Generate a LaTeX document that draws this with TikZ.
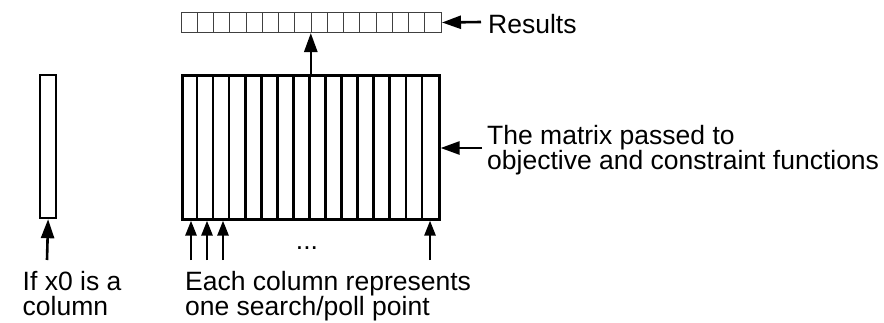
\documentclass[tikz,border=0pt]{standalone}
\usepackage{fontspec}
\setmainfont{Liberation Sans}
\usetikzlibrary{arrows.meta}

\tikzset{
  lbl/.style={anchor=north west, inner sep=0pt, align=left,
    font=\fontsize{26.5}{25}\selectfont},
  ptr/.style={line width=2.6pt, -{Triangle[length=19pt,width=13pt]}},
  colbox/.style={draw, line width=2.6pt, anchor=north west, inner sep=0pt},
  resbox/.style={draw=black!75, line width=1pt, anchor=north west, inner sep=0pt}
}

\begin{document}
\begin{tikzpicture}[x=1pt, y=-1pt]
    \useasboundingbox (0,0) rectangle (884,322);

    % Results row
    \node[resbox, minimum width=260pt, minimum height=20pt] (res) at (181,12) {};
    \foreach \i in {1,...,15}
        \draw[black!75, line width=1pt] ([xshift=\i*16.25pt]res.north west) -- ([xshift=\i*16.25pt]res.south west);

    % The matrix
    \node[colbox, minimum width=257pt, minimum height=144pt] (mat) at (181,74) {};
    \foreach \i in {1,...,15}
        \draw[line width=2.6pt] ([xshift=\i*16.06pt]mat.north west) -- ([xshift=\i*16.06pt]mat.south west);

    % Single column x0
    \node[colbox, line width=2.2pt, minimum width=16pt, minimum height=143pt] (xcol) at (39,74) {};

    % Labels
    \node[lbl] (reslbl) at (488,14) {Results};
    \node[lbl] (matlbl) at (487,125) {The matrix passed to\\objective and constraint functions};
    \node[lbl] (xlbl) at (22.5,271) {If x0 is a\\column};
    \node[lbl] (ptlbl) at (185,271) {Each column represents\\one search/poll point};
    \node[anchor=base, inner sep=0pt, font=\fontsize{26.5}{25}\selectfont] (dots) at (307,249) {...};

    % Arrows
    \coordinate (restail) at (481,22);
    \coordinate (mattail) at (482,148);
    \coordinate (xtail) at (47,260);
    \draw[ptr] (restail) -- (res.east);
    \draw[ptr] (mat.north) -- (mat.north |- res.south);
    \draw[ptr] (mattail) -- (mat.east |- mattail);
    \draw[ptr] (xtail) -- (xcol.south);
    \foreach \x/\n in {191/a, 207/b, 223/c, 430/d} {
        \coordinate (pt\n) at (\x,260);
        \draw[ptr, -{Triangle[length=15pt,width=11pt]}] (pt\n) -- (mat.south -| pt\n);
    }
\end{tikzpicture}
\end{document}
